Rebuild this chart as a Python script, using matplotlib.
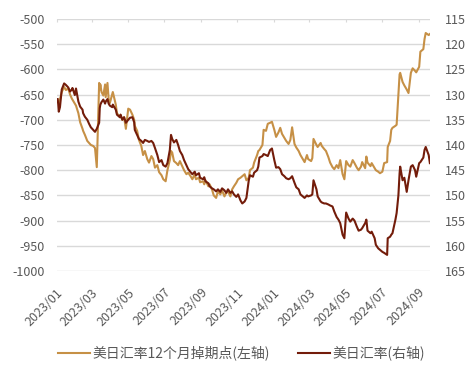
# USD/JPY spot vs 12M swap points, twin axis line chart

import pandas as pd
import matplotlib
matplotlib.use("Agg")
import matplotlib.pyplot as plt
import matplotlib.dates as mdates
from matplotlib.transforms import ScaledTranslation

plt.rcParams['font.family'] = ['Noto Sans CJK SC', 'DejaVu Sans']
plt.rcParams['axes.unicode_minus'] = False

dates = [
    "2023-01-02", "2023-01-03", "2023-01-04", "2023-01-06", "2023-01-09", "2023-01-13", "2023-01-16",
    "2023-01-20", "2023-01-23", "2023-01-26", "2023-01-27", "2023-01-31", "2023-02-02", "2023-02-06",
    "2023-02-09", "2023-02-13", "2023-02-14", "2023-02-17", "2023-02-21", "2023-02-24", "2023-02-27",
    "2023-03-03", "2023-03-06", "2023-03-09", "2023-03-13", "2023-03-14", "2023-03-15", "2023-03-17",
    "2023-03-20", "2023-03-23", "2023-03-24", "2023-03-27", "2023-03-29", "2023-03-31", "2023-04-04",
    "2023-04-05", "2023-04-10", "2023-04-12", "2023-04-17", "2023-04-18", "2023-04-21", "2023-04-24",
    "2023-04-27", "2023-05-01", "2023-05-04", "2023-05-08", "2023-05-11", "2023-05-12", "2023-05-16",
    "2023-05-19", "2023-05-23", "2023-05-26", "2023-05-29", "2023-06-02", "2023-06-05", "2023-06-09",
    "2023-06-12", "2023-06-15", "2023-06-19", "2023-06-22", "2023-06-26", "2023-06-29", "2023-07-03",
    "2023-07-06", "2023-07-10", "2023-07-12", "2023-07-14", "2023-07-17", "2023-07-21", "2023-07-24",
    "2023-07-27", "2023-07-31", "2023-08-03", "2023-08-07", "2023-08-10", "2023-08-14", "2023-08-17",
    "2023-08-21", "2023-08-23", "2023-08-28", "2023-08-30", "2023-09-04", "2023-09-06", "2023-09-08",
    "2023-09-13", "2023-09-15", "2023-09-19", "2023-09-22", "2023-09-26", "2023-09-29", "2023-10-03",
    "2023-10-06", "2023-10-10", "2023-10-13", "2023-10-16", "2023-10-20", "2023-10-23", "2023-10-26",
    "2023-10-30", "2023-11-02", "2023-11-06", "2023-11-09", "2023-11-13", "2023-11-16", "2023-11-20",
    "2023-11-22", "2023-11-27", "2023-11-29", "2023-12-04", "2023-12-06", "2023-12-08", "2023-12-13",
    "2023-12-15", "2023-12-19", "2023-12-22", "2023-12-26", "2023-12-29", "2024-01-02", "2024-01-05",
    "2024-01-09", "2024-01-12", "2024-01-15", "2024-01-19", "2024-01-22", "2024-01-26", "2024-01-29",
    "2024-02-01", "2024-02-05", "2024-02-08", "2024-02-12", "2024-02-15", "2024-02-19", "2024-02-22",
    "2024-02-26", "2024-02-28", "2024-03-04", "2024-03-06", "2024-03-08", "2024-03-13", "2024-03-15",
    "2024-03-20", "2024-03-22", "2024-03-26", "2024-03-29", "2024-04-02", "2024-04-05", "2024-04-09",
    "2024-04-12", "2024-04-16", "2024-04-19", "2024-04-22", "2024-04-26", "2024-04-29", "2024-05-02",
    "2024-05-06", "2024-05-09", "2024-05-13", "2024-05-16", "2024-05-20", "2024-05-23", "2024-05-27",
    "2024-05-29", "2024-06-03", "2024-06-05", "2024-06-07", "2024-06-12", "2024-06-14", "2024-06-19",
    "2024-06-21", "2024-06-25", "2024-06-28", "2024-07-02", "2024-07-05", "2024-07-10", "2024-07-11",
    "2024-07-15", "2024-07-17", "2024-07-19", "2024-07-24", "2024-07-26", "2024-07-29", "2024-07-31",
    "2024-08-01", "2024-08-05", "2024-08-08", "2024-08-12", "2024-08-15", "2024-08-19", "2024-08-22",
    "2024-08-26", "2024-08-28", "2024-09-02", "2024-09-04", "2024-09-09", "2024-09-11", "2024-09-13",
    "2024-09-18", "2024-09-20",
]

# 12M swap points (left axis)
swap_pts = [
    -660, -665, -667, -660, -645, -635, -641, -638, -650, -658, -660, -668, -672, -687,
    -705, -718, -722, -730, -742, -746, -750, -752, -756, -794, -627, -640, -630, -645,
    -652, -630, -655, -627, -660, -667, -650, -645, -670, -687, -695, -690, -700, -695,
    -718, -678, -680, -690, -700, -712, -722, -740, -752, -770, -762, -778, -785, -772,
    -778, -795, -790, -804, -810, -818, -822, -800, -780, -762, -765, -782, -786, -790,
    -782, -792, -800, -808, -805, -812, -818, -808, -818, -815, -824, -822, -828, -820,
    -832, -828, -838, -850, -855, -842, -848, -840, -852, -845, -842, -852, -838, -832,
    -825, -818, -815, -812, -808, -820, -815, -800, -795, -785, -770, -762, -760, -750,
    -720, -722, -708, -706, -704, -720, -734, -725, -716, -728, -736, -742, -748, -740,
    -715, -748, -755, -762, -770, -778, -784, -770, -778, -782, -776, -738, -750, -754,
    -746, -752, -758, -762, -774, -785, -794, -798, -790, -796, -780, -808, -818, -782,
    -790, -793, -780, -786, -795, -800, -793, -784, -796, -773, -785, -792, -786, -796,
    -800, -803, -806, -803, -786, -784, -754, -742, -720, -716, -712, -710, -650, -610,
    -607, -625, -632, -640, -647, -607, -598, -603, -606, -595, -565, -560, -540, -528,
    -532, -530,
]

# USD/JPY (right axis, inverted)
usdjpy = [
    130.9, 131.8, 133.4, 132.5, 129.0, 127.8, 128.1, 128.6, 129.4, 129.0, 128.7, 130.1, 128.8, 131.4,
    132.4, 133.0, 133.7, 134.4, 135.0, 135.8, 136.5, 137.0, 137.4, 136.8, 135.6, 132.7, 132.0, 131.5,
    131.0, 131.8, 131.4, 130.9, 131.8, 132.2, 132.5, 132.0, 133.0, 134.0, 134.5, 134.0, 135.0, 134.5,
    135.6, 135.0, 134.6, 134.5, 135.5, 137.0, 138.0, 138.8, 139.2, 139.6, 139.0, 139.2, 139.4, 139.2,
    139.6, 140.6, 142.0, 143.4, 143.0, 144.0, 144.3, 143.6, 141.0, 138.0, 138.8, 139.5, 139.0, 140.0,
    141.2, 142.0, 143.0, 144.0, 144.8, 145.4, 145.8, 145.3, 146.0, 145.6, 146.5, 146.8, 146.4, 147.2,
    147.6, 148.2, 148.6, 148.8, 149.2, 148.8, 149.3, 148.6, 149.0, 149.5, 148.8, 149.5, 149.2, 149.8,
    150.3, 149.8, 151.0, 151.6, 151.2, 150.5, 147.0, 146.0, 146.3, 145.5, 145.0, 144.3, 142.5, 142.2,
    141.8, 142.0, 142.2, 141.0, 140.7, 143.0, 144.5, 144.4, 144.8, 145.8, 146.2, 146.6, 146.8, 146.6,
    146.2, 147.5, 148.4, 148.8, 149.8, 150.2, 150.5, 150.0, 150.2, 150.0, 149.8, 147.0, 148.8, 150.2,
    151.2, 151.4, 151.6, 151.6, 151.8, 152.0, 152.2, 153.2, 154.3, 154.8, 155.5, 157.8, 158.5, 153.4,
    154.6, 155.2, 154.6, 155.0, 156.2, 157.0, 156.8, 156.5, 155.5, 154.8, 157.0, 157.5, 157.2, 158.5,
    159.8, 160.5, 160.8, 161.2, 161.4, 161.8, 158.5, 158.2, 157.8, 157.5, 154.8, 153.5, 150.0, 145.6,
    144.3, 147.0, 146.5, 149.3, 147.0, 144.3, 144.0, 145.0, 146.3, 143.6, 143.4, 142.5, 141.0, 140.4,
    142.0, 143.6,
]

left_ticks = list(range(-1000, -499, 50))
right_ticks = list(range(115, 166, 5))

gold = "#C69046"
dark = "#731C0A"
grey = "#595959"

x = pd.to_datetime(dates)

fig = plt.figure(figsize=(4.75, 3.78), dpi=100)
ax = fig.add_axes([0.12, 0.283, 0.785, 0.667])
ax2 = ax.twinx()

l1, = ax.plot(x, swap_pts, color=gold, lw=1.5, label="美日汇率12个月掉期点(左轴)")
l2, = ax2.plot(x, usdjpy, color=dark, lw=1.5, label="美日汇率(右轴)")

ax.set_ylim(-1000, -500)
ax.set_yticks(left_ticks)
ax2.set_ylim(165, 115)
ax2.set_yticks(right_ticks)
ax.set_xlim(pd.Timestamp("2023-01-01"), pd.Timestamp("2024-09-20"))

ax.grid(axis="y", color="#D9D9D9", lw=1.0)
ax.set_axisbelow(True)
for a in (ax, ax2):
    for s in a.spines.values():
        s.set_visible(False)

ax.xaxis.set_major_locator(mdates.MonthLocator(bymonth=[1, 3, 5, 7, 9, 11]))
ax.xaxis.set_major_formatter(mdates.DateFormatter("%Y/%m"))
ax.tick_params(axis="x", top=True, bottom=False, labeltop=False, labelbottom=True,
               direction="in", length=2.5, color="#D9D9D9", pad=14, labelsize=9, labelcolor=grey)
shift = ScaledTranslation(4 / 100, 0, fig.dpi_scale_trans)
for lab in ax.get_xticklabels():
    lab.set_rotation(45)
    lab.set_ha("right")
    lab.set_va("center")
    lab.set_rotation_mode("anchor")
    lab.set_transform(lab.get_transform() + shift)

ax.tick_params(axis="y", length=0, pad=9, labelsize=9, labelcolor=grey)
ax2.tick_params(axis="y", length=0, pad=11, labelsize=9, labelcolor=grey)

fig.legend([l1, l2], [l1.get_label(), l2.get_label()], loc="center", bbox_to_anchor=(0.508, 0.066),
           ncol=2, frameon=False, fontsize=10, handlelength=2.3, handletextpad=0.2,
           columnspacing=2.0, labelcolor=grey)

fig.savefig("out.png", dpi=100)
